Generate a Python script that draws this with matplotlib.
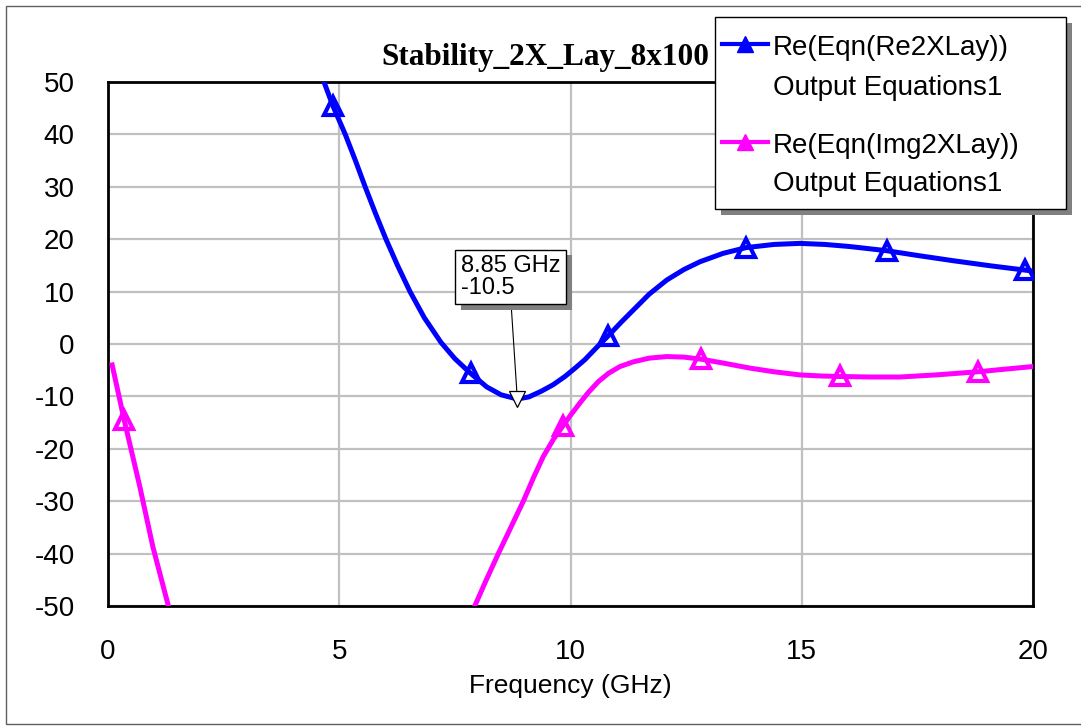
import numpy as np
import matplotlib.pyplot as plt
import matplotlib.patheffects as pe
from matplotlib.patches import Rectangle
from matplotlib.lines import Line2D

plt.rcParams['axes.unicode_minus'] = False

W, H = 1081, 726

# Re(Eqn(Re2XLay)) trace
freq_re = [4.50, 4.67, 4.86, 5.13, 5.35, 5.56, 5.78, 6.01, 6.26, 6.53, 6.84,
           7.20, 7.50, 7.84, 8.19, 8.50, 8.85, 9.10, 9.37, 9.62, 9.88, 10.10,
           10.31, 10.55, 10.82, 11.10, 11.36, 11.70, 12.08, 12.45, 12.80, 13.30,
           13.80, 14.40, 14.96, 15.50, 16.04, 16.84, 17.50, 18.27, 19.10, 19.83,
           20.00]
val_re = [54.0, 50.0, 45.5, 40.0, 35.0, 30.0, 25.0, 20.0, 15.0, 10.0, 5.0,
          0.3, -2.8, -5.6, -8.2, -9.7, -10.5, -10.1, -9.0, -7.8, -6.2, -4.6,
          -3.0, -0.8, 1.6, 4.2, 6.5, 9.5, 12.2, 14.2, 15.7, 17.3,
          18.4, 19.0, 19.2, 19.0, 18.6, 17.8, 16.9, 15.9, 14.9, 14.1,
          13.9]
mark_re_f = [4.86, 7.84, 10.82, 13.80, 16.84, 19.83]
mark_re_v = [45.5, -5.6, 1.6, 18.4, 17.8, 14.1]

# Re(Eqn(Img2XLay)) trace (leaves the axis range between the two pieces)
freq_im = [0.09, 0.35, 0.69, 0.97, 1.30, 1.40, np.nan,
           7.85, 7.93, 8.18, 8.44, 8.71, 8.98, 9.20, 9.41, 9.63, 9.84, 10.00,
           10.20, 10.39, 10.60, 10.82, 11.07, 11.36, 11.70, 12.08, 12.45, 12.83,
           13.34, 13.88, 14.40, 14.96, 15.40, 15.83, 16.50, 17.12, 17.90, 18.81,
           19.40, 20.00]
val_im = [-4.0, -14.5, -27.3, -38.7, -49.8, -53.5, np.nan,
          -53.0, -50.0, -45.0, -40.0, -35.0, -30.0, -25.5, -21.5, -18.2, -15.6,
          -13.6, -11.3, -9.2, -7.2, -5.6, -4.3, -3.4, -2.7, -2.4, -2.5, -2.9,
          -3.7, -4.6, -5.3, -5.9, -6.1, -6.2, -6.3, -6.3, -5.9, -5.3,
          -4.8, -4.3]
mark_im_f = [0.35, 9.84, 12.83, 15.83, 18.81]
mark_im_v = [-14.5, -15.6, -2.9, -6.2, -5.3]

# marker readout
mk_f, mk_v = 8.85, -10.5

xticks = [0, 5, 10, 15, 20]
yticks = list(range(-50, 51, 10))

blue = '#0000ff'
magenta = '#ff00ff'
sans = 'Liberation Sans'


def fp(x, y):
    # pixel position (from top-left) -> figure fraction
    return x / W, 1 - y / H


fig = plt.figure(figsize=(W / 100, H / 100), dpi=100)
fig.patch.set_facecolor('white')
ax = fig.add_axes([108 / W, 1 - 606 / H, (1033 - 108) / W, (606 - 82) / H])

ax.plot(freq_re, val_re, color=blue, lw=3.6, zorder=3,
        solid_joinstyle='round')
ax.plot(mark_re_f, mark_re_v, ls='none', marker='^', ms=13, mfc='none',
        mec=blue, mew=3, zorder=4)
ax.plot(freq_im, val_im, color=magenta, lw=3.6, zorder=3,
        solid_joinstyle='round')
ax.plot(mark_im_f, mark_im_v, ls='none', marker='^', ms=13, mfc='none',
        mec=magenta, mew=3, zorder=4)

ax.set_xlim(0, 20)
ax.set_ylim(-50, 50)
ax.set_xticks(xticks)
ax.set_yticks(yticks)
ax.grid(True, color='#c0c0c0', lw=1.6)
ax.set_axisbelow(True)
for s in ax.spines.values():
    s.set_linewidth(2)
    s.set_color('black')
ax.tick_params(length=0, pad=24, labelsize=20)
for lab in ax.get_xticklabels() + ax.get_yticklabels():
    lab.set_fontfamily(sans)
ax.set_xlabel('Frequency (GHz)', fontsize=19, family=sans, labelpad=6)

# readout marker with its label box
ax.plot([mk_f], [mk_v], ls='none', marker='v', ms=11, mfc='white',
        mec='black', mew=0.9, zorder=6)
ann = ax.annotate('%.2f GHz\n%.1f' % (mk_f, mk_v), xy=(mk_f, mk_v),
                  xytext=fp(461, 277), textcoords='figure fraction',
                  ha='left', va='center', fontsize=17, family=sans,
                  linespacing=0.95,
                  bbox=dict(boxstyle='square,pad=0.25', fc='white', ec='black', lw=1),
                  arrowprops=dict(arrowstyle='-', color='black', lw=0.8,
                                  shrinkA=0, shrinkB=0, relpos=(0.5, 0)),
                  zorder=5)
ann.get_bbox_patch().set_path_effects(
    [pe.SimplePatchShadow(offset=(4, -4), shadow_rgbFace='#808080', alpha=1),
     pe.Normal()])

# outer frame
fig.add_artist(Rectangle(fp(6, 724), (1200 - 6) / W, (724 - 6) / H,
                         transform=fig.transFigure, fill=False,
                         ec='#606060', lw=1, zorder=1))

# title (partly covered by the legend box)
fig.text(*fp(381, 65), 'Stability_2X_Lay_8x100', family='Liberation Serif',
         weight='bold', fontsize=22.5, ha='left', va='baseline', zorder=2)

# legend box
leg = Rectangle(fp(715, 209), (1066 - 715) / W, (209 - 17) / H,
                transform=fig.transFigure, fc='white', ec='black', lw=1,
                zorder=10)
leg.set_path_effects([pe.SimplePatchShadow(offset=(4, -4),
                                           shadow_rgbFace='#808080', alpha=1),
                      pe.Normal()])
fig.add_artist(leg)

entries = [('Re(Eqn(Re2XLay))', blue, 44, 55, 95),
           ('Re(Eqn(Img2XLay))', magenta, 142, 153, 191)]
for name, col, ly, b1, b2 in entries:
    x0, y0 = fp(722, ly)
    x1, _ = fp(768, ly)
    fig.add_artist(Line2D([x0, x1], [y0, y0], transform=fig.transFigure,
                          color=col, lw=3, zorder=11))
    fig.add_artist(Line2D([(x0 + x1) / 2], [y0], transform=fig.transFigure,
                          ls='none', marker='^', ms=12, color=col, zorder=11))
    fig.text(*fp(773, b1), name, family=sans, fontsize=20, ha='left',
             va='baseline', zorder=12)
    fig.text(*fp(773, b2), 'Output Equations1', family=sans, fontsize=20,
             ha='left', va='baseline', zorder=12)

fig.savefig('out.png', dpi=100)
